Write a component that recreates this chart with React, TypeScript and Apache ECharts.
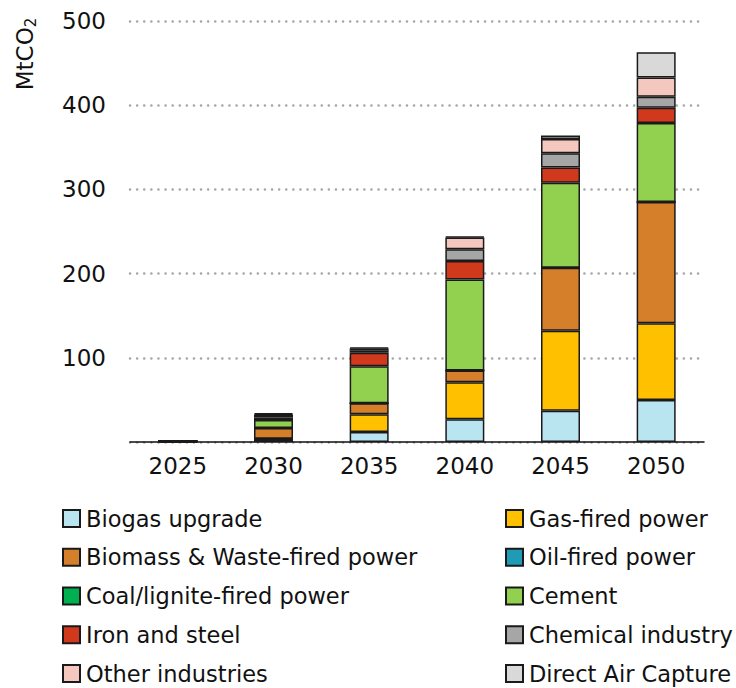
import React, { useEffect, useRef } from "react";
import * as echarts from "echarts";

const years = ["2025", "2030", "2035", "2040", "2045", "2050"];
const biogas = [0, 3.5, 12, 27, 37, 50];
const gasFired = [0, 0.5, 21, 44, 95, 91];
const biomass = [1.2, 12.5, 13, 14, 75, 144];
const oilFired = [0, 0, 0, 0, 0, 0];
const coalFired = [0, 0, 0, 0, 0, 0];
const cement = [0, 9.5, 44, 108, 101, 94];
const ironSteel = [0, 3, 16, 22, 18, 18];
const chemical = [0, 3, 3, 14, 17, 13];
const otherInd = [0, 1, 2, 14, 17, 23];
const dac = [0, 1, 1, 1, 4, 30];

const seriesDefs = [
  { name: "Biogas upgrade", data: biogas, color: "#b8e5f0" },
  { name: "Gas-fired power", data: gasFired, color: "#ffc000" },
  { name: "Biomass & Waste-fired power", data: biomass, color: "#d57f2a" },
  { name: "Oil-fired power", data: oilFired, color: "#1f9bb6" },
  { name: "Coal/lignite-fired power", data: coalFired, color: "#00b050" },
  { name: "Cement", data: cement, color: "#92d050" },
  { name: "Iron and steel", data: ironSteel, color: "#d0391c" },
  { name: "Chemical industry", data: chemical, color: "#a6a6a6" },
  { name: "Other industries", data: otherInd, color: "#f5c8bf" },
  { name: "Direct Air Capture", data: dac, color: "#d9d9d9" },
];

const leftLegend = [
  "Biogas upgrade",
  "Biomass & Waste-fired power",
  "Coal/lignite-fired power",
  "Iron and steel",
  "Other industries",
];
const rightLegend = [
  "Gas-fired power",
  "Oil-fired power",
  "Cement",
  "Chemical industry",
  "Direct Air Capture",
];

const FONT = "DejaVu Sans";

export default function App() {
  const ref = useRef<HTMLDivElement>(null);
  useEffect(() => {
    if (!ref.current) return;
    const chart = echarts.init(ref.current, null, { renderer: "svg" });
    const legendCommon = {
      orient: "vertical" as const,
      icon: "rect",
      itemWidth: 17,
      itemHeight: 17,
      itemGap: 15.75,
      padding: 0,
      height: 200,
      textStyle: { fontFamily: FONT, fontSize: 22.5, color: "#111", padding: [0, 0, 0, 1] },
      selectedMode: false,
    };
    chart.setOption({
      animation: false,
      textStyle: { fontFamily: FONT },
      grid: { left: 130, right: 32, top: 21, bottom: 246, containLabel: false },
      legend: [
        { ...legendCommon, data: leftLegend, left: 62, top: 507 },
        { ...legendCommon, data: rightLegend, left: 505, top: 507 },
      ],
      xAxis: {
        type: "category",
        data: years,
        axisLine: { lineStyle: { color: "#111", width: 1.5 } },
        axisTick: { show: false },
        axisLabel: { fontFamily: FONT, fontSize: 23, color: "#111", margin: 12 },
      },
      yAxis: {
        type: "value",
        min: 0,
        max: 500,
        interval: 100,
        axisLine: { show: false },
        axisTick: { show: false },
        axisLabel: {
          fontFamily: FONT,
          fontSize: 23,
          color: "#111",
          margin: 24,
          formatter: (v: number) => (v === 0 ? "" : String(v)),
        },
        splitLine: {
          lineStyle: { color: "#a6a6a6", width: 2.5, type: [0.1, 7], cap: "round" },
        },
      },
      graphic: [
        {
          type: "text",
          x: 25,
          y: 54,
          rotation: Math.PI / 2,
          style: {
            text: "{a|MtCO}{b|2}",
            align: "center",
            verticalAlign: "middle",
            rich: {
              a: { fontFamily: FONT, fontSize: 23, fill: "#111" },
              b: { fontFamily: FONT, fontSize: 15, fill: "#111", padding: [12, 0, 0, 0] },
            },
          },
        },
      ],
      series: seriesDefs.map((s) => ({
        name: s.name,
        type: "bar",
        stack: "total",
        data: s.data,
        barWidth: 39,
        itemStyle: { color: s.color, borderColor: "#1a1a1a", borderWidth: 1.5 },
      })),
    });
    return () => chart.dispose();
  }, []);
  return (
    <div
      ref={ref}
      style={{ position: "absolute", left: 0, top: 0, width: 736, height: 688 }}
    />
  );
}
